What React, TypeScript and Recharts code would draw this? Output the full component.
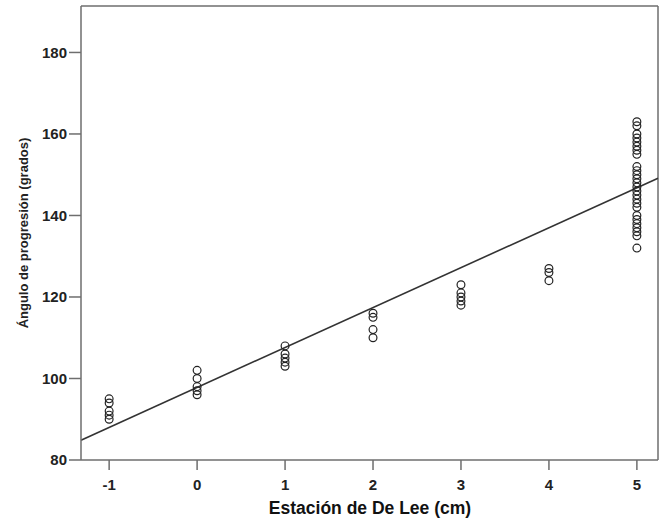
import { ScatterChart, Scatter, XAxis, YAxis, ReferenceLine } from "recharts";

// Estación de De Lee (cm) vs ángulo de progresión (grados)
const stations = [-1, 0, 1, 2, 3, 4, 5];
const anglesByStation: number[][] = [
  [95, 94, 92, 91, 90],
  [102, 100, 98, 97, 96],
  [108, 106, 105, 104, 103],
  [116, 115, 112, 110],
  [123, 121, 120, 119, 118],
  [127, 126, 124],
  [163, 162, 160, 159, 158, 157, 156, 155, 152, 151, 150, 149, 148, 147, 146, 145, 144, 143, 142, 140, 139, 138, 137, 136, 135, 132],
];

const xTicks = [-1, 0, 1, 2, 3, 4, 5];
const yTicks = [80, 100, 120, 140, 160, 180];
const xDomain: [number, number] = [-1.32, 5.24];
const yDomain: [number, number] = [80, 191.4];

// regression fit
const intercept = 97.8;
const slope = 9.8;

const points = stations.flatMap((s, i) => anglesByStation[i].map((a) => ({ x: s, y: a })));
const fitSegment = xDomain.map((x) => ({ x, y: intercept + slope * x }));

const FONT = "'Liberation Sans', Arial, sans-serif";
const INK = "#222";
const FRAME = "#6e6e6e";

const OpenCircle = (props: any) => {
  const { cx, cy } = props;
  if (cx == null || cy == null) return null;
  return <circle cx={cx} cy={cy} r={3.9} fill="none" stroke={INK} strokeWidth={1.2} />;
};

export default function App() {
  return (
    <div style={{ position: "absolute", left: 0, top: 0, width: 670, height: 519, background: "#fff", fontFamily: FONT }}>
      <ScatterChart width={670} height={519} margin={{ top: 6, right: 12, bottom: 29, left: 11 }}>
        <XAxis
          type="number"
          dataKey="x"
          domain={xDomain}
          ticks={xTicks}
          allowDataOverflow
          stroke={FRAME}
          strokeWidth={1.5}
          tickSize={10}
          tickMargin={9}
          tick={{ fill: INK, fontSize: 15, fontWeight: 700, fontFamily: FONT }}
          tickFormatter={(v: number) => String(v)}
        />
        <YAxis
          type="number"
          dataKey="y"
          domain={yDomain}
          ticks={yTicks}
          allowDataOverflow
          width={70}
          stroke={FRAME}
          strokeWidth={1.5}
          tickSize={12}
          tickMargin={2}
          tick={{ fill: INK, fontSize: 15, fontWeight: 700, fontFamily: FONT }}
        />
        {/* frame: top and right edges */}
        <ReferenceLine y={yDomain[1]} stroke={FRAME} strokeWidth={1.5} ifOverflow="visible" />
        <ReferenceLine x={xDomain[1]} stroke={FRAME} strokeWidth={1.5} ifOverflow="visible" />
        <ReferenceLine segment={fitSegment} stroke="#333" strokeWidth={1.6} ifOverflow="visible" />
        <Scatter data={points} shape={OpenCircle} isAnimationActive={false} />
      </ScatterChart>
      <div
        style={{
          position: "absolute",
          left: 23,
          top: 233,
          transform: "translate(-50%, -50%) rotate(-90deg)",
          whiteSpace: "nowrap",
          fontSize: 13,
          fontWeight: 700,
          color: INK,
        }}
      >
        Ángulo de progresión (grados)
      </div>
      <div
        style={{
          position: "absolute",
          left: 370,
          top: 508,
          transform: "translate(-50%, -50%)",
          whiteSpace: "nowrap",
          fontSize: 17.5,
          fontWeight: 700,
          color: "#111",
        }}
      >
        Estación de De Lee (cm)
      </div>
    </div>
  );
}
